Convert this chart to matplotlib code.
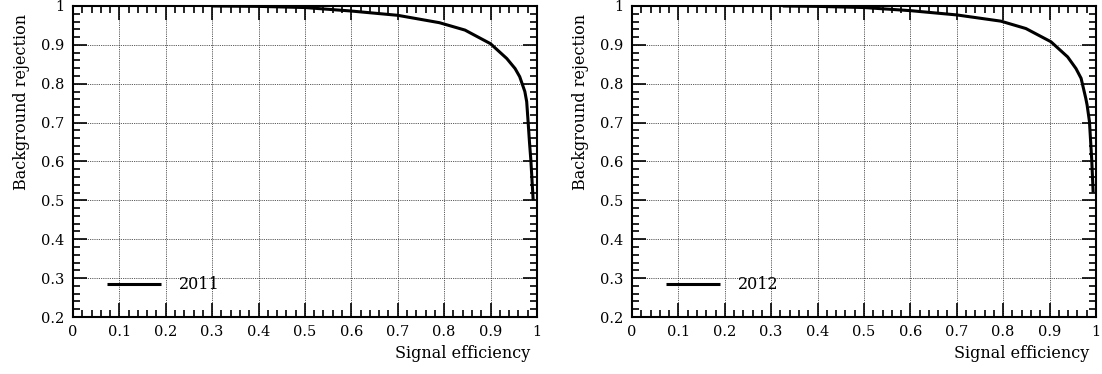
import matplotlib
matplotlib.use("Agg")
import matplotlib.pyplot as plt
from matplotlib.ticker import AutoMinorLocator

plt.rcParams['font.family'] = ['DejaVu Serif']
plt.rcParams['font.size'] = 10

# ROC curves: signal efficiency vs background rejection
eff_2011 = [0.300, 0.400, 0.500, 0.600, 0.700, 0.790, 0.845, 0.900, 0.935,
            0.953, 0.963, 0.974, 0.978, 0.981, 0.984, 0.987, 0.992]
rej_2011 = [1.000, 0.999, 0.996, 0.987, 0.976, 0.957, 0.938, 0.903, 0.865,
            0.839, 0.818, 0.780, 0.754, 0.703, 0.650, 0.603, 0.500]

eff_2012 = [0.325, 0.400, 0.500, 0.600, 0.700, 0.795, 0.849, 0.903, 0.939,
            0.957, 0.968, 0.978, 0.981, 0.986, 0.991, 0.994]
rej_2012 = [1.000, 0.999, 0.996, 0.988, 0.977, 0.961, 0.942, 0.908, 0.869,
            0.839, 0.814, 0.763, 0.745, 0.703, 0.603, 0.520]

panels = [("2011", eff_2011, rej_2011), ("2012", eff_2012, rej_2012)]
xticks = [0, 0.1, 0.2, 0.3, 0.4, 0.5, 0.6, 0.7, 0.8, 0.9, 1]
xtick_labels = ["0", "0.1", "0.2", "0.3", "0.4", "0.5", "0.6", "0.7", "0.8", "0.9", "1"]
yticks = [0.2, 0.3, 0.4, 0.5, 0.6, 0.7, 0.8, 0.9, 1]
ytick_labels = ["0.2", "0.3", "0.4", "0.5", "0.6", "0.7", "0.8", "0.9", "1"]

fig = plt.figure(figsize=(11.02, 3.74), dpi=100)
lefts = [0.0662, 0.5735]

for left, (year, eff, rej) in zip(lefts, panels):
    ax = fig.add_axes([left, 0.1524, 0.421, 0.8316])
    ax.plot(eff, rej, color='black', lw=2.2, label=year, solid_capstyle='butt',
            solid_joinstyle='round')
    ax.set_xlim(0, 1)
    ax.set_ylim(0.2, 1)
    ax.set_xticks(xticks)
    ax.set_xticklabels(xtick_labels)
    ax.set_yticks(yticks)
    ax.set_yticklabels(ytick_labels)
    ax.xaxis.set_minor_locator(AutoMinorLocator(5))
    ax.yaxis.set_minor_locator(AutoMinorLocator(5))
    ax.tick_params(which='both', direction='in', top=True, right=True, width=1.2,
                   labelsize=10.5)
    ax.tick_params(which='major', length=10, pad=6)
    ax.tick_params(which='minor', length=5)
    for s in ax.spines.values():
        s.set_linewidth(1.5)
    ax.grid(True, which='major', color='#222222', ls=(0, (1, 1.2)), lw=0.6)
    ax.set_xlabel("Signal efficiency", ha='right', x=0.985, fontsize=11.5)
    ax.set_ylabel("Background rejection", ha='right', y=0.975, fontsize=11.5)
    ax.xaxis.labelpad = 4
    ax.yaxis.labelpad = 8
    ax.legend(loc='lower left', bbox_to_anchor=(0.042, 0.03), frameon=False,
              handlelength=3.4, handletextpad=1.1, fontsize=11.5)

fig.savefig("out.png", dpi=100)
